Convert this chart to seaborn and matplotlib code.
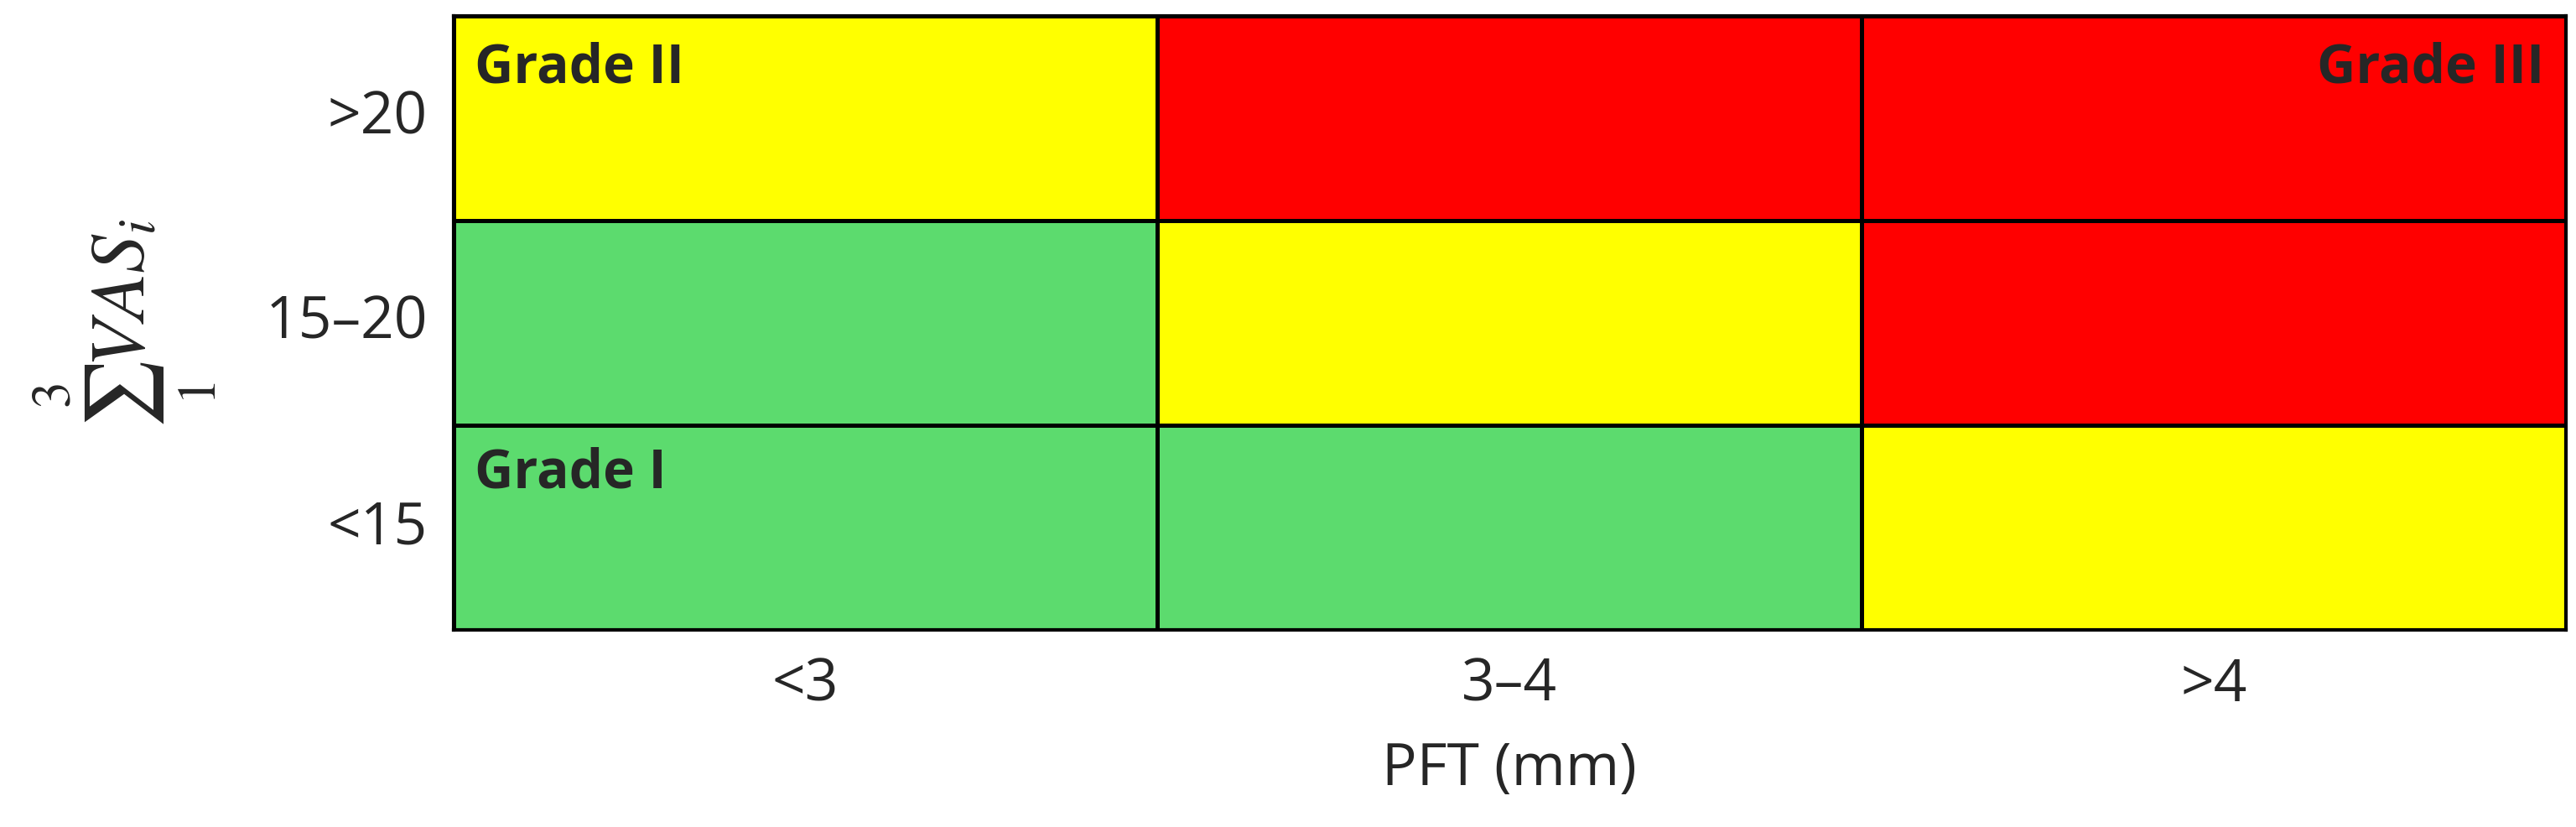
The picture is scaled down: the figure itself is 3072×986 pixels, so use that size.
import numpy as np
import matplotlib
matplotlib.use("Agg")
import matplotlib.pyplot as plt
from matplotlib.colors import ListedColormap
import seaborn as sns

pft_labels = ["<3", "3–4", ">4"]
vas_labels = [">20", "15–20", "<15"]
# 0 = Grade I (green), 1 = Grade II (yellow), 2 = Grade III (red); rows top to bottom
grades = np.array([[1, 2, 2],
                   [0, 1, 2],
                   [0, 0, 1]])
grade_colors = ["#5CDB6E", "#FFFF00", "#FF0000"]

sns.set_style("white")
plt.rcParams["font.family"] = ["Open Sans", "DejaVu Sans"]
plt.rcParams["mathtext.fontset"] = "stix"

fig = plt.figure(figsize=(30.72, 9.87), dpi=100)
ax = fig.add_axes([0.176, 0.238, 0.82, 0.742])
sns.heatmap(grades, cmap=ListedColormap(grade_colors), vmin=-0.5, vmax=2.5,
            cbar=False, linewidths=2.5, linecolor="black",
            xticklabels=pft_labels, yticklabels=vas_labels, ax=ax)
for s in ax.spines.values():
    s.set_visible(True)
    s.set_linewidth(3)
    s.set_color("black")

ax.tick_params(axis="both", length=0, labelsize=50, pad=22)
plt.setp(ax.get_yticklabels(), rotation=0)
ax.set_xlabel("PFT (mm)", fontsize=50, labelpad=22)
ax.set_ylabel(r"$\sum_1^3 VAS_i$", fontsize=66, labelpad=40)

ax.text(0.03, 0.12, "Grade II", fontsize=46, fontweight="bold", ha="left", va="top")
ax.text(2.97, 0.12, "Grade III", fontsize=46, fontweight="bold", ha="right", va="top")
ax.text(0.03, 2.1, "Grade I", fontsize=46, fontweight="bold", ha="left", va="top")

fig.savefig("out.png", dpi=100)
